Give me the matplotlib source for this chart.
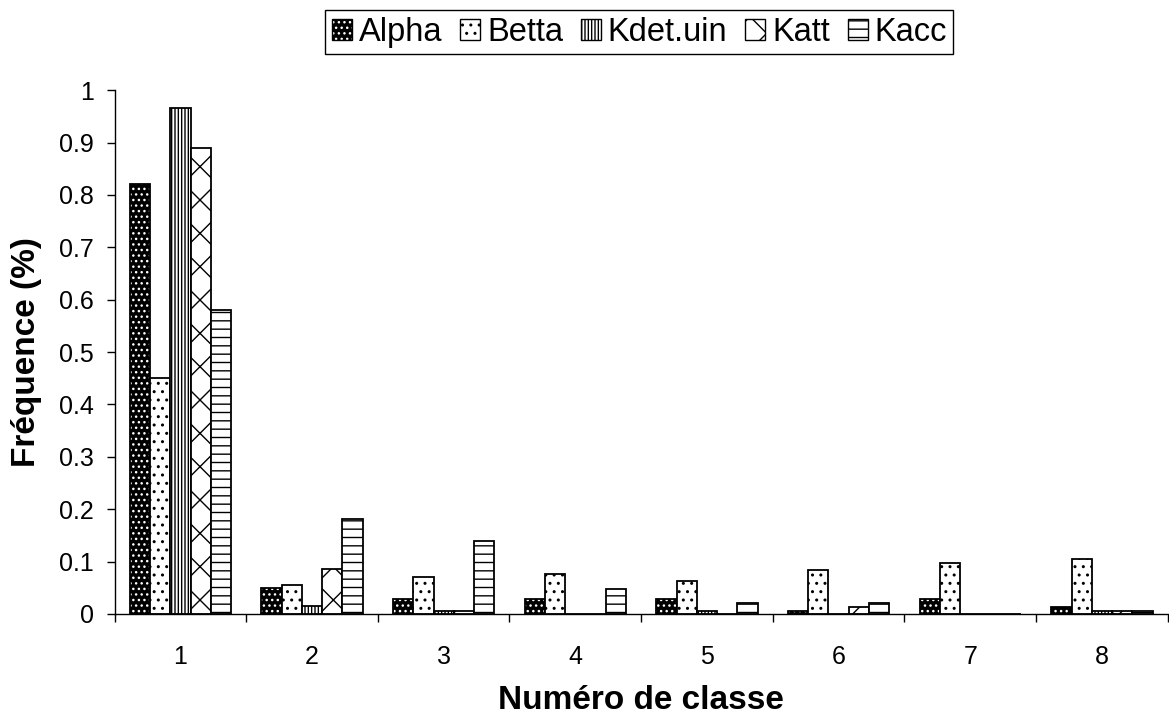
import numpy as np
import matplotlib
matplotlib.use('Agg')
from matplotlib import pyplot as plt
from matplotlib.patches import Patch
from matplotlib.legend_handler import HandlerTuple

# class frequencies per indicator
classes = ['1', '2', '3', '4', '5', '6', '7', '8']
alpha = [0.82, 0.05, 0.028, 0.028, 0.028, 0.006, 0.028, 0.014]
betta = [0.45, 0.056, 0.07, 0.077, 0.063, 0.084, 0.098, 0.105]
kdet = [0.966, 0.015, 0.006, 0.0, 0.006, 0.0, 0.0, 0.006]
katt = [0.889, 0.085, 0.006, 0.0, 0.0, 0.014, 0.0, 0.006]
kacc = [0.581, 0.182, 0.14, 0.048, 0.02, 0.021, 0.0, 0.006]

series = [('Alpha', alpha), ('Betta', betta), ('Kdet.uin', kdet),
          ('Katt', katt), ('Kacc', kacc)]
# (face colour, hatch colour, hatch)
styles = [('black', 'white', '...'),
          ('white', 'black', '..'),
          ('white', 'black', '|||||'),
          ('white', 'black', 'x'),
          ('white', 'black', '--')]

plt.rcParams['font.family'] = ['Liberation Sans', 'DejaVu Sans']
plt.rcParams['hatch.linewidth'] = 1.0

fig = plt.figure(figsize=(11.69, 7.16), dpi=100)
ax = fig.add_axes([0.098, 0.1425, 0.9009, 0.7315])

x = np.arange(len(classes))
w = 1 / 6.5
handles = []
for i, ((name, vals), (fc, hc, hatch)) in enumerate(zip(series, styles)):
    pos = x + (i - 2) * w
    # hatch fill first, outline on top
    ax.bar(pos, vals, w, color=fc, edgecolor=hc, hatch=hatch, linewidth=0)
    ax.bar(pos, vals, w, fill=False, edgecolor='black', linewidth=1.3)
    handles.append((Patch(facecolor=fc, edgecolor=hc, hatch=hatch, linewidth=0),
                    Patch(fill=False, edgecolor='black', linewidth=1.0)))

ax.set_xlim(-0.5, len(classes) - 0.5)
ax.set_ylim(0, 1)
ax.set_yticks(np.arange(0, 1.01, 0.1))
ax.set_yticklabels(['0'] + ['%.1f' % v for v in np.arange(0.1, 0.95, 0.1)] + ['1'])

# tick marks between classes, labels centred under each group
ax.set_xticks(np.arange(-0.5, len(classes), 1.0))
ax.set_xticklabels([])
ax.set_xticks(x, minor=True)
ax.set_xticklabels(classes, minor=True)
ax.tick_params(axis='x', which='minor', length=0, pad=22, labelsize=18)
ax.tick_params(axis='x', which='major', direction='out', length=6, width=1)
ax.tick_params(axis='y', direction='out', length=6, width=1, labelsize=18, pad=9)

for side in ['top', 'right']:
    ax.spines[side].set_visible(False)
for side in ['left', 'bottom']:
    ax.spines[side].set_linewidth(1.0)
    ax.spines[side].set_color('black')

ax.set_xlabel('Numéro de classe', fontsize=24, fontweight='bold', labelpad=12)
ax.set_ylabel('Fréquence (%)', fontsize=24, fontweight='bold', labelpad=12)

leg = fig.legend(handles, [s[0] for s in series], ncol=5, loc='center',
                 bbox_to_anchor=(0.547, 0.955), fontsize=23.5,
                 handler_map={tuple: HandlerTuple(ndivide=1)},
                 handlelength=0.62, handleheight=0.62, handletextpad=0.2,
                 columnspacing=0.55, borderpad=0.2, borderaxespad=0,
                 fancybox=False, framealpha=1)
leg.get_frame().set_edgecolor('black')
leg.get_frame().set_linewidth(1.0)

fig.savefig('out.png', dpi=100)
